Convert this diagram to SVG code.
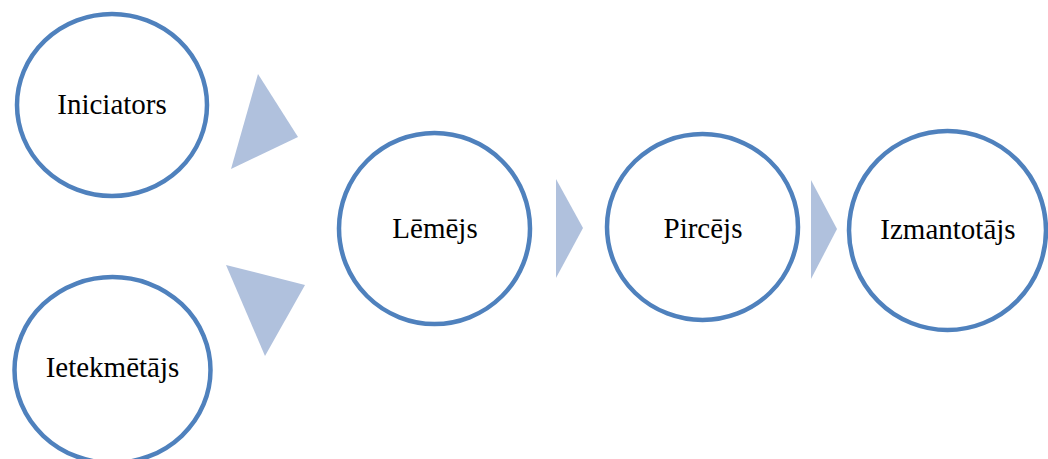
<svg xmlns="http://www.w3.org/2000/svg" width="1048" height="459" viewBox="0 0 1048 459">
<style>
.node{fill:#fff;stroke:#4F81BD;stroke-width:4.5}
.lbl{font-family:"Liberation Serif","Times New Roman",serif;font-size:29px;fill:#000;text-anchor:middle}
.arr{fill:#B0C1DD}
</style>
<rect width="1048" height="459" fill="#fff"/>
<g id="connectors">
<polygon class="arr" points="258,74 298,137 231,169"/>
<polygon class="arr" points="226,265 305,285 265,356"/>
<polygon class="arr" points="556,179 583,228 556,278"/>
<polygon class="arr" points="811,180 837,229 811,279"/>
</g>
<g id="iniciators">
<ellipse class="node" cx="112" cy="105" rx="95" ry="91"/>
<text class="lbl" x="112" y="114">Iniciators</text>
</g>
<g id="ietekmetajs">
<ellipse class="node" cx="112.5" cy="370" rx="98" ry="93"/>
<text class="lbl" x="112.5" y="377">Ietekmētājs</text>
</g>
<g id="lemejs">
<ellipse class="node" cx="434.5" cy="228.5" rx="95.5" ry="95.5"/>
<text class="lbl" x="435" y="238">Lēmējs</text>
</g>
<g id="pircejs">
<ellipse class="node" cx="702.5" cy="227" rx="95.5" ry="93"/>
<text class="lbl" x="703" y="238">Pircējs</text>
</g>
<g id="izmantotajs">
<ellipse class="node" cx="947.5" cy="230.5" rx="98.5" ry="99.5"/>
<text class="lbl" x="948" y="239">Izmantotājs</text>
</g>
</svg>
